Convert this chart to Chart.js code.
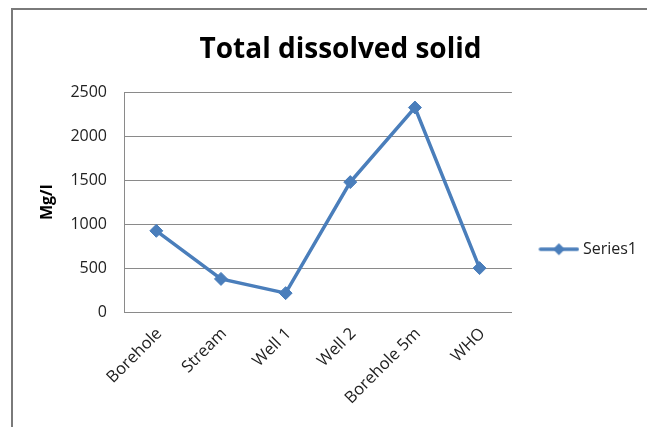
<!DOCTYPE html>
<html><head><meta charset="utf-8">
<script src="https://cdn.jsdelivr.net/npm/chart.js@4/dist/chart.umd.min.js"></script>
<style>
html,body{margin:0;padding:0;background:#fff;}
#wrap{position:relative;width:647px;height:427px;overflow:hidden;background:#fff;}
#frame{position:absolute;left:11px;top:8px;width:700px;height:500px;border-top:2px solid #7a7a7a;border-left:2px solid #7a7a7a;}
canvas{position:absolute;left:0;top:0;}
</style></head><body>
<div id="wrap"><div id="frame"></div><canvas id="c" width="647" height="427"></canvas></div>
<script>
const categories = ['Borehole', 'Stream', 'Well 1', 'Well 2', 'Borehole 5m', 'WHO'];
const series1 = [925, 377, 215, 1480, 2330, 500];
const yTicks = [0, 500, 1000, 1500, 2000, 2500];
const seriesName = 'Series1';
const chartTitle = 'Total dissolved solid';
const yTitle = 'Mg/l';

const BLUE = '#4A7EBB';
const GRID = '#8a8a8a';
const FONT = "'Open Sans', sans-serif";

// legend marker: line with diamond
const mk = document.createElement('canvas');
mk.width = 62; mk.height = 16;
(function(){
  const g = mk.getContext('2d');
  g.strokeStyle = BLUE; g.lineWidth = 3.5; g.lineCap = 'round';
  g.beginPath(); g.moveTo(23, 8); g.lineTo(60, 8); g.stroke();
  g.fillStyle = BLUE;
  g.beginPath(); g.moveTo(41.5, 2); g.lineTo(47.5, 8); g.lineTo(41.5, 14); g.lineTo(35.5, 8); g.closePath(); g.fill();
})();

new Chart(document.getElementById('c'), {
  type: 'line',
  data: {
    labels: categories,
    datasets: [{
      label: seriesName,
      data: series1,
      borderColor: BLUE,
      backgroundColor: BLUE,
      borderWidth: 3.5,
      pointStyle: 'rectRot',
      pointRadius: 6.5,
      pointBorderWidth: 1,
      pointBackgroundColor: BLUE,
      pointBorderColor: BLUE,
      tension: 0
    }]
  },
  options: {
    responsive: false,
    animation: false,
    devicePixelRatio: 1,
    layout: { padding: { left: 34, top: 23, right: 0, bottom: 0 } },
    plugins: {
      title: {
        display: true, text: chartTitle, color: '#000',
        font: { family: FONT, size: 28, weight: 'bold', lineHeight: 1.2 },
        padding: { top: 10, bottom: 26 }
      },
      legend: {
        position: 'right',
        align: 'center',
        title: { display: true, text: '', font: { size: 12 }, padding: { top: 17, bottom: 17 } },
        labels: {
          usePointStyle: true,
          pointStyleWidth: 53,
          padding: 10,
          color: '#222',
          font: { family: FONT, size: 16 },
          generateLabels: (chart) => [{
            text: seriesName, pointStyle: mk, fillStyle: BLUE, strokeStyle: BLUE,
            lineWidth: 0, hidden: false, datasetIndex: 0, fontColor: '#222'
          }]
        }
      },
      tooltip: { enabled: false }
    },
    scales: {
      x: {
        offset: true,
        grid: { display: false },
        border: { color: GRID, width: 1 },
        ticks: { minRotation: 45, maxRotation: 45, color: '#222', font: { family: FONT, size: 16.5 }, padding: 4, labelOffset: 3 },
        afterFit: (s) => { s.height = 115; }
      },
      y: {
        min: 0, max: 2500,
        afterBuildTicks: (s) => { s.ticks = yTicks.map(v => ({ value: v })); },
        grid: { color: GRID, drawTicks: false, lineWidth: 1 },
        border: { color: GRID, width: 1 },
        ticks: { color: '#222', font: { family: FONT, size: 16 }, padding: 17, callback: (v) => String(v) },
        title: { display: true, text: yTitle, color: '#000', font: { family: FONT, size: 16, weight: 'bold' }, padding: { top: 4, bottom: 4 } },
        afterFit: (s) => { s.width = 90; }
      }
    }
  }
});
</script>
</body></html>
